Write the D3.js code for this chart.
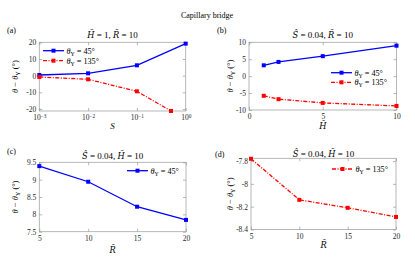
<!DOCTYPE html>
<html>
<head>
<meta charset="utf-8">
<script src="https://cdn.jsdelivr.net/npm/d3@7"></script>
<style>
  body { margin: 0; background: #fff; }
  svg { display: block; font-family: "Liberation Serif", "DejaVu Serif", serif; }
  .axis path { display: none; }
  .axis line { stroke: #9a9a9a; stroke-width: 0.7; }
  .axis text { fill: #262626; font-size: 7.5px; font-family: "Liberation Serif", serif; }
</style>
</head>
<body>
<div id="app"></div>
<script>
const WIDTH = 415, HEIGHT = 257;

// (a) H=1, R=10 : theta - thetaY vs S (log)
const S_45 = [0.001, 0.01, 0.1, 1];
const S_135 = [0.001, 0.01, 0.1, 0.5];
const A_45 = [0.4, 1.4, 6.2, 19.2];
const A_135 = [-0.8, -2.2, -9.4, -21.2];
const A_XTICKS = [0.001, 0.01, 0.1, 1];
const A_YTICKS = [-20, -10, 0, 10, 20];

// (b) S=0.04, R=10 : vs H
const H_B = [1, 2, 5, 10];
const B_45 = [3.2, 4.2, 5.9, 9.0];
const B_135 = [-5.8, -6.8, -7.9, -8.8];
const B_XTICKS = [0, 5, 10];
const B_YTICKS = [-10, -5, 0, 5, 10];

// (c), (d) S=0.04, H=10 : vs R
const R_CD = [5, 10, 15, 20];
const C_45 = [9.39, 8.94, 8.22, 7.84];
const D_135 = [-7.78, -8.14, -8.21, -8.29];
const CD_XTICKS = [5, 10, 15, 20];
const C_YTICKS = [7.5, 8, 8.5, 9, 9.5];
const D_YTICKS = [-8.4, -8.2, -8, -7.8];

const BLUE = "#0000ff", RED = "#ff0000";

// text pieces
const TH = [{t: "θ", i: 1}, {t: "Y", sub: 1}];
const LEG45 = [...TH, {t: " = 45°"}];
const LEG135 = [...TH, {t: " = 135°"}];
const YLAB = [{t: "θ", i: 1}, {t: " − "}, ...TH, {t: " (°)"}];
// accented letters need a font that has the combining marks
const Ht = {t: "H\u0303", i: 1, dj: 1}, Rt = {t: "R\u0303", i: 1, dj: 1}, Sh = {t: "S\u0302", i: 1, dj: 1};

const rich = (sel, parts) => {
  parts.forEach(p => {
    const s = sel.append("tspan").text(p.t);
    if (p.i) s.attr("font-style", "italic");
    if (p.dj) s.attr("font-family", "DejaVu Serif").attr("font-size", "92%");
    if (p.sub) s.attr("baseline-shift", "-25%").attr("font-size", "70%");
    if (p.sup) s.attr("baseline-shift", "45%").attr("font-size", "70%");
  });
  return sel;
};

const svg = d3.select("#app").append("svg")
  .attr("width", WIDTH).attr("height", HEIGHT);

svg.append("text")
  .attr("x", 207).attr("y", 17.5)
  .attr("text-anchor", "middle").attr("font-size", 8)
  .text("Capillary bridge");

const panel = p => {
  const { box } = p;
  const x = (p.log ? d3.scaleLog() : d3.scaleLinear())
    .domain(p.xDomain).range([box.x0, box.x1]);
  const y = d3.scaleLinear().domain(p.yDomain).range([box.y1, box.y0]);
  const g = svg.append("g");

  g.append("rect")
    .attr("x", box.x0).attr("y", box.y0)
    .attr("width", box.x1 - box.x0).attr("height", box.y1 - box.y0)
    .attr("fill", "none").attr("stroke", "#a6a6a6").attr("stroke-width", 0.8);

  const xb = g.append("g").attr("class", "axis")
    .attr("transform", `translate(0,${box.y1})`)
    .call(d3.axisBottom(x).tickValues(p.xTicks).tickSize(-3).tickPadding(4)
      .tickFormat(p.log ? () => "" : d3.format("")));
  if (p.log) {
    xb.selectAll(".tick text").each(function (d) {
      rich(d3.select(this), [{t: "10"}, {t: String(Math.round(Math.log10(d))).replace("-", "−"), sup: 1}]);
    });
  }
  g.append("g").attr("class", "axis")
    .attr("transform", `translate(0,${box.y0})`)
    .call(d3.axisTop(x).tickValues(p.xTicks).tickSize(-3).tickFormat(""));
  g.append("g").attr("class", "axis")
    .attr("transform", `translate(${box.x0},0)`)
    .call(d3.axisLeft(y).tickValues(p.yTicks).tickSize(-3).tickPadding(3)
      .tickFormat(d => d3.format("")(d).replace("−", "-")));
  g.append("g").attr("class", "axis")
    .attr("transform", `translate(${box.x1},0)`)
    .call(d3.axisRight(y).tickValues(p.yTicks).tickSize(-3).tickFormat(""));

  p.series.forEach(s => {
    const pts = s.x.map((xv, i) => [x(xv), y(s.y[i])]);
    g.append("path")
      .attr("d", d3.line()(pts))
      .attr("fill", "none").attr("stroke", s.color).attr("stroke-width", 1.3)
      .attr("stroke-dasharray", s.dash || null);
    g.selectAll(null).data(pts).enter().append("rect")
      .attr("x", d => d[0] - 2).attr("y", d => d[1] - 2)
      .attr("width", 4).attr("height", 4).attr("fill", s.color);
  });

  // legend
  p.series.forEach((s, i) => {
    const ly = p.leg.y + i * p.leg.dy;
    g.append("line")
      .attr("x1", p.leg.x).attr("x2", p.leg.x + 21).attr("y1", ly).attr("y2", ly)
      .attr("stroke", s.color).attr("stroke-width", 1.3)
      .attr("stroke-dasharray", s.dash || null);
    g.append("rect")
      .attr("x", p.leg.x + 8.5).attr("y", ly - 2).attr("width", 4).attr("height", 4)
      .attr("fill", s.color);
    rich(g.append("text").attr("x", p.leg.x + 23.5).attr("y", ly + 2.8)
      .attr("font-size", 8.2), s.label);
  });

  // titles and labels
  const cx = (box.x0 + box.x1) / 2;
  rich(g.append("text").attr("x", cx).attr("y", p.titleY)
    .attr("text-anchor", "middle").attr("font-size", 9), p.title);
  g.append("text").attr("x", p.tag[0]).attr("y", p.tag[1])
    .attr("font-size", 8).text(p.name);
  rich(g.append("text").attr("x", cx).attr("y", p.xLabY)
    .attr("text-anchor", "middle").attr("font-size", 9), p.xLab);
  rich(g.append("text")
    .attr("transform", `translate(${p.yLabX},${(box.y0 + box.y1) / 2}) rotate(-90)`)
    .attr("text-anchor", "middle").attr("font-size", 8.5), YLAB);
};

panel({
  name: "(a)", tag: [7, 33],
  box: {x0: 39.3, x1: 185.7, y0: 42.3, y1: 111},
  log: true, xDomain: [0.001, 1], yDomain: [-21.2, 20],
  xTicks: A_XTICKS, yTicks: A_YTICKS,
  series: [
    {x: S_45, y: A_45, color: BLUE, label: LEG45},
    {x: S_135, y: A_135, color: RED, dash: "4,1.5,1,1.5", label: LEG135}
  ],
  leg: {x: 43, y: 50.7, dy: 10},
  title: [Ht, {t: " = 1, "}, Rt, {t: " = 10"}], titleY: 37.5,
  xLab: [{t: "S", i: 1}], xLabY: 129, yLabX: 17.5
});

panel({
  name: "(b)", tag: [217, 33],
  box: {x0: 249, x1: 396.5, y0: 42.3, y1: 110},
  xDomain: [0, 10], yDomain: [-10, 10],
  xTicks: B_XTICKS, yTicks: B_YTICKS,
  series: [
    {x: H_B, y: B_45, color: BLUE, label: LEG45},
    {x: H_B, y: B_135, color: RED, dash: "4,1.5,1,1.5", label: LEG135}
  ],
  leg: {x: 331, y: 72.7, dy: 9.6},
  title: [Sh, {t: " = 0.04, "}, Rt, {t: " = 10"}], titleY: 37.5,
  xLab: [Ht], xLabY: 129, yLabX: 233
});

panel({
  name: "(c)", tag: [7, 154],
  box: {x0: 39.3, x1: 186, y0: 162.3, y1: 231.7},
  xDomain: [5, 20], yDomain: [7.5, 9.5],
  xTicks: CD_XTICKS, yTicks: C_YTICKS,
  series: [{x: R_CD, y: C_45, color: BLUE, label: LEG45}],
  leg: {x: 127, y: 170.7, dy: 10},
  title: [Sh, {t: " = 0.04, "}, Ht, {t: " = 10"}], titleY: 158.5,
  xLab: [Rt], xLabY: 253, yLabX: 17.5
});

panel({
  name: "(d)", tag: [215, 157],
  box: {x0: 251, x1: 396, y0: 158.3, y1: 229.5},
  xDomain: [5, 20], yDomain: [-8.4, -7.776],
  xTicks: CD_XTICKS, yTicks: D_YTICKS,
  series: [{x: R_CD, y: D_135, color: RED, dash: "4,1.5,1,1.5", label: LEG135}],
  leg: {x: 332, y: 169, dy: 10},
  title: [Sh, {t: " = 0.04, "}, Ht, {t: " = 10"}], titleY: 156.5,
  xLab: [Rt], xLabY: 248, yLabX: 233
});
</script>
</body>
</html>
